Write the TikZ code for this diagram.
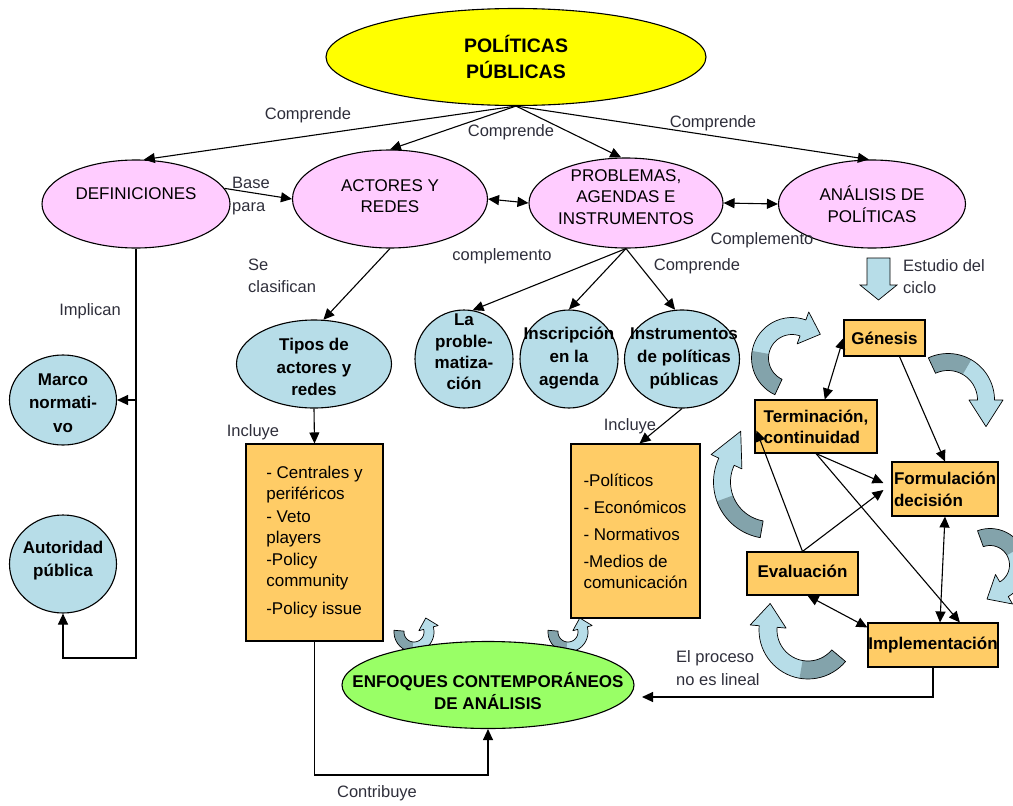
\documentclass[tikz,border=0pt]{standalone}
\usepackage{fontspec}
\setmainfont{Liberation Sans}
\usetikzlibrary{shapes.geometric,arrows.meta,calc}
\definecolor{pinkc}{HTML}{FFCCFF}
\definecolor{yellowc}{HTML}{FFFF00}
\definecolor{bluec}{HTML}{B7DDE8}
\definecolor{darkbluec}{HTML}{83A3AB}
\definecolor{orangec}{HTML}{FFCC66}
\definecolor{greenc}{HTML}{99FF66}
\definecolor{labc}{HTML}{2E2E3A}
\newcommand\bendarrow[8]{%
  \begin{scope}[shift={(#1,#2)}]
    \fill[bluec] plot[domain=#4:#6,samples=30] (\x:{#3+#7/2}) -- (#6:{#3+#7}) -- ({#6+#8}:{#3/cos(#8)}) -- (#6:{#3-#7}) -- plot[domain=#6:#4,samples=30] (\x:{#3-#7/2}) -- cycle;
    \fill[darkbluec] plot[domain=#4:#5,samples=20] (\x:{#3+#7/2}) -- plot[domain=#5:#4,samples=20] (\x:{#3-#7/2}) -- cycle;
    \draw[line width=0.7pt,line join=round] plot[domain=#4:#6,samples=30] (\x:{#3+#7/2}) -- (#6:{#3+#7}) -- ({#6+#8}:{#3/cos(#8)}) -- (#6:{#3-#7}) -- plot[domain=#6:#4,samples=30] (\x:{#3-#7/2}) -- cycle;
  \end{scope}}
\begin{document}
\begin{tikzpicture}[x=1pt,y=-1pt,
  shp/.style={draw, line width=1.1pt, inner sep=0pt},
  ell/.style={shp, ellipse},
  box/.style={shp, rectangle, fill=orangec},
  rtxt/.style={inner sep=0pt, align=center, font=\fontsize{17}{21.5}\selectfont},
  btxt/.style={inner sep=0pt, align=center, font=\bfseries\fontsize{17}{22.5}\selectfont},
  lbl/.style={inner sep=0pt, align=left, text=labc, font=\fontsize{16.5}{22}\selectfont},
  arr/.style={line width=1.1pt, -{Triangle[length=11pt,width=10pt]}},
  darr/.style={line width=1.1pt, {Triangle[length=11pt,width=10pt]}-{Triangle[length=11pt,width=10pt]}}
]
\useasboundingbox (0,0) rectangle (1013,806);

% ---- curved cycle arrows (behind) ----
\bendarrow{792}{358}{32}{115}{190}{290}{17}{30}
\bendarrow{948}{400}{38}{245}{300}{360}{17}{35}
\bendarrow{990}{565}{28}{250}{330}{420}{17}{35}
\bendarrow{808}{630}{40}{40}{100}{185}{18}{30}
\bendarrow{770}{482}{48}{100}{160}{205}{17}{35}
\bendarrow{414}{632}{15}{185}{95}{-15}{10}{-35}
\bendarrow{568}{632}{15}{185}{95}{-15}{10}{-35}

% ---- main ellipses ----
\node[ell, fill=yellowc, minimum width=380, minimum height=97] (PP) at (516,57) {};
\node[btxt, font=\bfseries\fontsize{19.5}{26}\selectfont] (PPt) at (516,57) {POLÍTICAS\\PÚBLICAS};

\node[ell, fill=pinkc, minimum width=188, minimum height=88] (DEF) at (136,204) {};
\node[rtxt] (DEFt) at (136,194) {DEFINICIONES};
\node[ell, fill=pinkc, minimum width=195, minimum height=98] (ACT) at (390,199) {};
\node[rtxt] (ACTt) at (390,196) {ACTORES Y\\REDES};
\node[ell, fill=pinkc, minimum width=194, minimum height=90] (PROB) at (626,203) {};
\node[rtxt] (PROBt) at (626,197) {PROBLEMAS,\\AGENDAS E\\INSTRUMENTOS};
\node[ell, fill=pinkc, minimum width=187, minimum height=88] (ANA) at (872,204) {};
\node[rtxt] (ANAt) at (872,204) {ANÁLISIS DE\\POLÍTICAS};

% ---- blue nodes ----
\node[ell, fill=bluec, minimum width=155, minimum height=88] (TIP) at (314,364) {};
\node[btxt] (TIPt) at (314,367) {Tipos de\\actores y\\redes};
\node[ell, fill=bluec, minimum width=98, minimum height=98] (LAP) at (464,359) {};
\node[btxt, font=\bfseries\fontsize{17}{21.3}\selectfont] (LAPt) at (464,352) {La\\proble-\\matiza-\\ción};
\node[ell, fill=bluec, minimum width=98, minimum height=98] (INS) at (569,359) {};
\node[btxt, font=\bfseries\fontsize{17}{23}\selectfont] (INSt) at (569,358) {Inscripción\\en la\\agenda};
\node[ell, fill=bluec, minimum width=115, minimum height=98] (INST) at (682,359) {};
\node[btxt, font=\bfseries\fontsize{17}{23}\selectfont] (INSTt) at (684,358) {Instrumentos\\de políticas\\públicas};
\node[ell, fill=bluec, minimum width=107, minimum height=90] (MAR) at (63,400) {};
\node[btxt, font=\bfseries\fontsize{17}{23.5}\selectfont] (MARt) at (63,403) {Marco\\normati-\\vo};
\node[ell, fill=bluec, minimum width=107, minimum height=98] (AUT) at (63,564) {};
\node[btxt, font=\bfseries\fontsize{17}{23}\selectfont] (AUTt) at (63,561) {Autoridad\\pública};

\node[ell, fill=greenc, minimum width=292, minimum height=87] (ENF) at (488,685) {};
\node[btxt] (ENFt) at (488,691) {ENFOQUES CONTEMPORÁNEOS\\DE ANÁLISIS};

% ---- orange boxes ----
\node[box, minimum width=137, minimum height=197, align=left, font=\fontsize{17}{21}\selectfont] (B1) at (314.5,542.5)
  {- Centrales y\\periféricos\\[2pt]- Veto\\players\\[1pt]-Policy\\community\\[7pt]-Policy issue};
\node[box, minimum width=129, minimum height=174, align=left, font=\fontsize{17}{21}\selectfont] (B2) at (635.5,531)
  {-Políticos\\[6pt]- Económicos\\[6pt]- Normativos\\[6pt]-Medios de\\comunicación};

\node[box, minimum width=81, minimum height=36, font=\bfseries\fontsize{17}{21}\selectfont] (GEN) at (884.5,338) {Génesis};
\node[box, minimum width=122, minimum height=53, align=left, font=\bfseries\fontsize{17}{21}\selectfont] (TER) at (816,426.5) {Terminación,\\continuidad};
\node[box, minimum width=106, minimum height=54, align=left, font=\bfseries\fontsize{17}{22}\selectfont] (FOR) at (945,489) {Formulación\\decisión};
\node[box, minimum width=111, minimum height=43, font=\bfseries\fontsize{17}{21}\selectfont] (EVA) at (802.5,573.5) {\raisebox{4pt}{Evaluación}};
\node[box, minimum width=130, minimum height=44, font=\bfseries\fontsize{17}{21}\selectfont] (IMP) at (933,645) {Implementación};

% ---- block arrow down ----
\filldraw[fill=bluec, line width=0.7pt] (867,258) -- (890,258) -- (890,285) -- (897,285) -- (878.5,300) -- (860,285) -- (867,285) -- cycle;

% ---- connectors ----
\draw[arr] (PP.south) -- (DEF.80);
\draw[arr] (PP.south) -- (ACT.north);
\draw[arr] (PP.south) -- (PROB.96);
\draw[arr] (PP.south) -- (ANA.94);
\draw[arr] (DEF.10) -- (ACT.west);
\draw[darr] (ACT.east) -- (PROB.west);
\draw[darr] (PROB.east) -- (ANA.west);
\draw[arr] (ACT.south) -- (TIP.78);
\draw[arr] (PROB.south) -- (LAP.80);
\draw[arr] (PROB.south) -- (INS.north);
\draw[arr] (PROB.south) -- (INST.98);
\draw[arr] (TIP.south) -- (B1.north);
\draw[arr] (INST.south) -- ($(B2.north)+(4,0)$);

\coordinate (defb) at (136,658);
\draw[arr] (DEF.south) -- (defb) -| (AUT.south);
\draw[arr] (DEF.south |- MAR.east) -- (MAR.east);
\coordinate (contb) at (314.5,775);
\draw[arr] (B1.south) -- (contb) -| (ENF.south);
\coordinate (nolin) at (642,697);
\draw[arr] (IMP.south) |- (nolin);

\draw[darr] (GEN.west) -- (TER.72);
\draw[arr] ($(GEN.south)+(15,0)$) -- (FOR.north);
\draw[arr] (TER.south) -- ($(FOR.west)+(-8,-6)$);
\draw[arr] (TER.south) -- (IMP.40);
\draw[arr] (EVA.north) -- ($(TER.west)+(2,4)$);
\draw[arr] (EVA.north) -- ($(FOR.west)+(-8,1)$);
\draw[darr] (FOR.south) -- ($(IMP.north)+(7,0)$);
\draw[darr] ($(EVA.south)+(5,0)$) -- (IMP.165);

% ---- labels ----
\node[lbl] (l1) at (308,115) {Comprende};
\node[lbl] (l2) at (511,132) {Comprende};
\node[lbl] (l3) at (713,123) {Comprende};
\node[lbl, anchor=west, font=\fontsize{16.5}{23}\selectfont] (l4) at (232,196.5) {Base\\para};
\node[lbl] (l5) at (502,256) {complemento};
\node[lbl] (l6) at (762,240) {Complemento};
\node[lbl, anchor=west] (l7) at (248,276) {Se\\clasifican};
\node[lbl] (l8) at (697,266) {Comprende};
\node[lbl] (l9) at (90,311) {Implican};
\node[lbl, anchor=west] (l10) at (903,276.5) {Estudio del\\ciclo};
\node[lbl] (l11) at (253,432) {Incluye};
\node[lbl] (l12) at (630,426) {Incluye};
\node[lbl] (l13) at (377,793) {Contribuye};
\node[lbl, anchor=west, font=\fontsize{16.5}{23}\selectfont] (l14) at (676,668.5) {El proceso\\no es lineal};
\end{tikzpicture}
\end{document}
